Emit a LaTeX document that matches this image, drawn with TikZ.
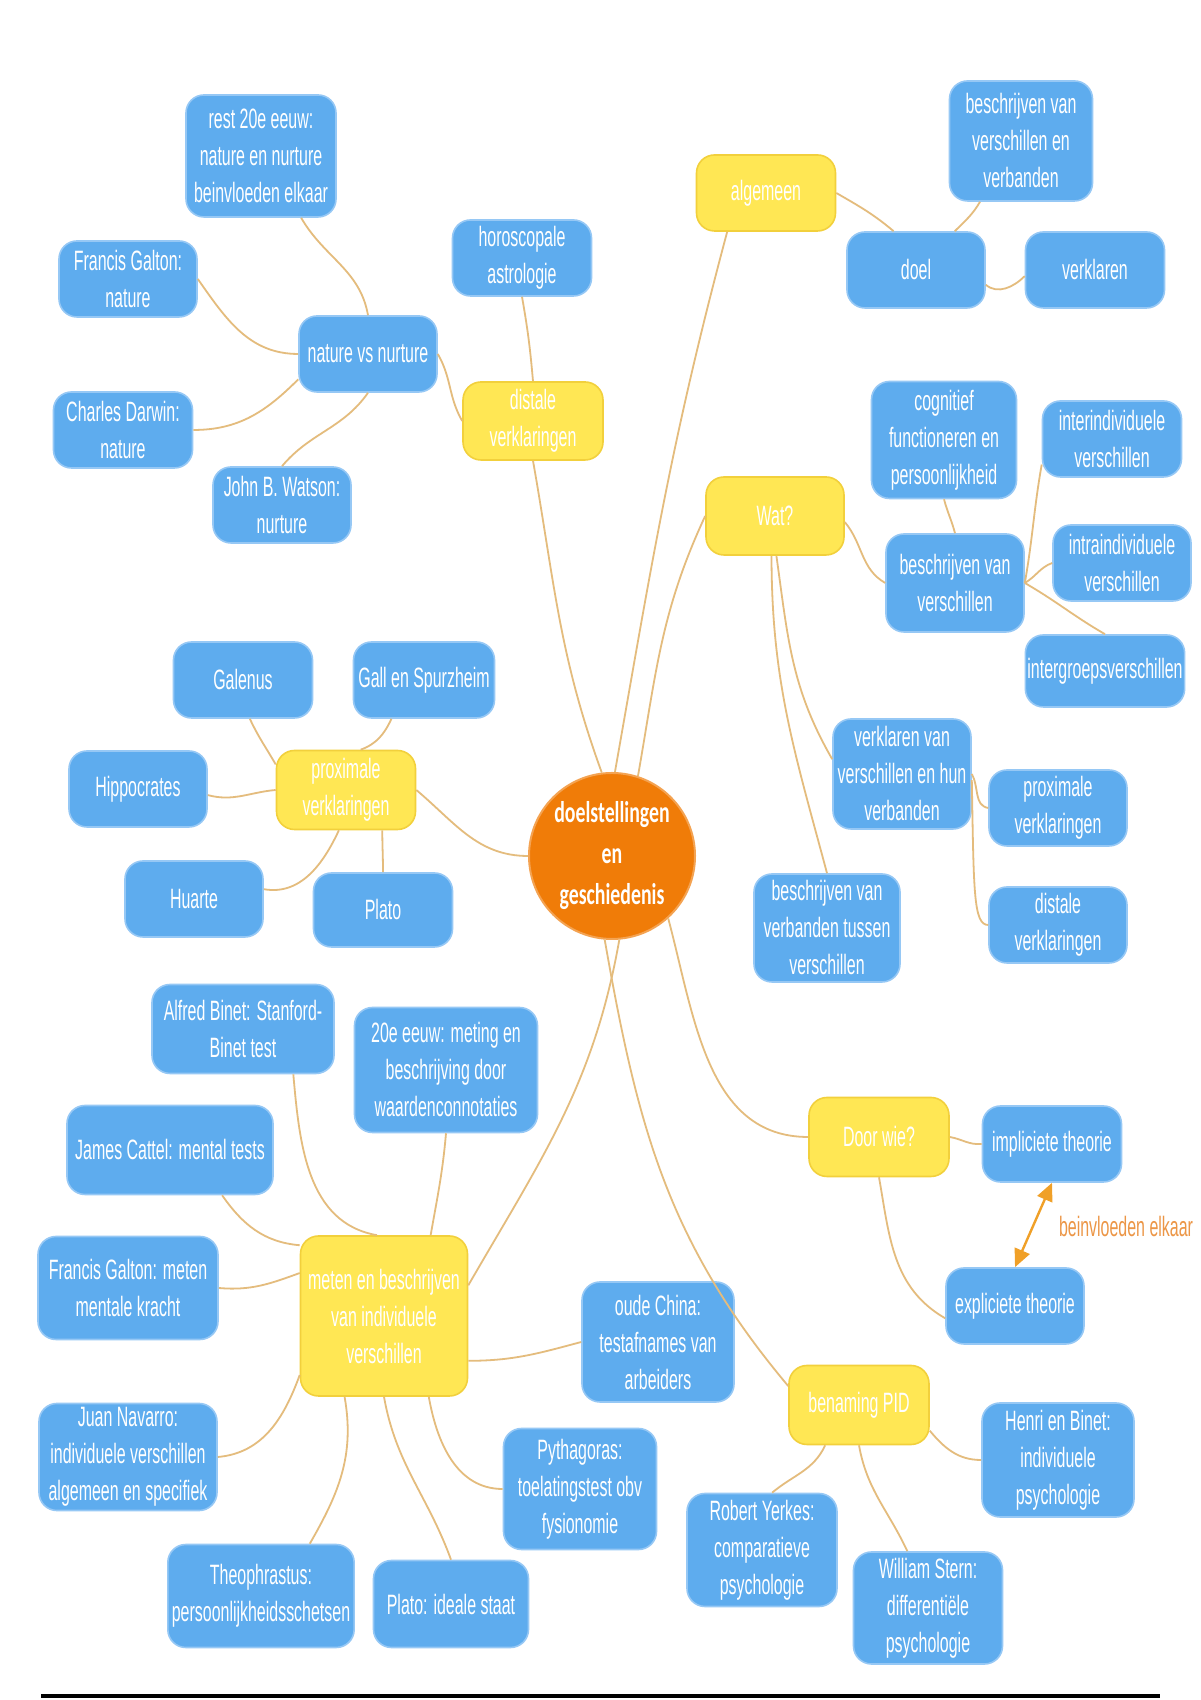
\documentclass[tikz,border=0pt]{standalone}
\usepackage{fontspec}
\setmainfont[FakeStretch=0.57]{Liberation Sans}
\newfontfamily\hubfont[FakeStretch=0.66]{Carlito}
\usetikzlibrary{arrows.meta}

\definecolor{leafblue}{RGB}{94,172,238}
\definecolor{leafedge}{RGB}{150,200,245}
\definecolor{branchyellow}{RGB}{255,231,84}
\definecolor{branchedge}{RGB}{242,208,60}
\definecolor{huborange}{RGB}{240,124,8}
\definecolor{linktan}{RGB}{228,188,125}
\definecolor{arroworange}{RGB}{240,160,40}
\definecolor{labelorange}{RGB}{236,150,70}

\tikzset{
  mapfont/.style={font=\fontsize{14}{18.5}\selectfont},
  leaf/.style={mapfont, draw=leafedge, line width=0.8pt, fill=leafblue, text=white,
    rounded corners=9pt, align=center, inner sep=2pt, minimum width=69pt, minimum height=38pt},
  branch/.style={leaf, draw=branchedge, fill=branchyellow},
  hub/.style={circle, draw=huborange!70, line width=1pt, fill=huborange, text=white,
    align=center, inner sep=0pt, minimum size=83pt, font=\hubfont\bfseries\fontsize{15}{20.5}\selectfont},
  link/.style={draw=linktan, line width=0.9pt},
  infl/.style={{Triangle[length=9pt,width=8pt]}-{Triangle[length=9pt,width=8pt]}, draw=arroworange, line width=1.2pt}
}

\begin{document}
\begin{tikzpicture}[x=0.5pt,y=0.5pt]
\useasboundingbox (0,0) rectangle (1200,1700);
\fill[white] (0,0) rectangle (1200,1700);

% Central topic
\node[hub] (hub) at (612,844) {doelstellingen\\en\\geschiedenis};

% distale verklaringen
\node[branch, minimum width=70pt, minimum height=39pt] (distY) at (533,1279) {distale\\verklaringen};
\node[leaf, minimum width=69.5pt] (horosc) at (522,1442) {horoscopale\\astrologie};
\node[leaf] (natnur) at (368,1346) {nature vs nurture};
\node[leaf, minimum width=75pt, minimum height=61pt] (natureboth) at (261,1544) {rest 20e eeuw:\\nature en nurture\\beinvloeden elkaar};
\node[leaf] (galtonnat) at (128,1421) {Francis Galton:\\nature};
\node[leaf, minimum width=69.5pt] (darwin) at (123,1270) {Charles Darwin:\\nature};
\node[leaf] (watson) at (282,1195) {John B. Watson:\\nurture};

% algemeen
\node[branch, minimum width=69.5pt] (algem) at (766,1507) {algemeen};
\node[leaf] (doel) at (916,1430) {doel};
\node[leaf, minimum width=71.5pt, minimum height=60pt] (beschrvv) at (1021,1559) {beschrijven van\\verschillen en\\verbanden};
\node[leaf, minimum width=69.5pt] (verkl) at (1095,1430) {verklaren};

% Wat?
\node[branch, minimum height=39pt] (wat) at (775,1184) {Wat?};
\node[leaf, minimum width=72.5pt, minimum height=58.5pt] (cognit) at (944,1260) {cognitief\\functioneren en\\persoonlijkheid};
\node[leaf, minimum height=49pt] (beschrv) at (955,1117) {beschrijven van\\verschillen};
\node[leaf, minimum width=69.5pt] (inter) at (1112,1261) {interindividuele\\verschillen};
\node[leaf] (intra) at (1122,1137) {intraindividuele\\verschillen};
\node[leaf, inner xsep=1pt, minimum width=78.5pt, minimum height=36pt] (intergr) at (1105,1029) {intergroepsverschillen};
\node[leaf, inner xsep=1pt, minimum height=55pt] (verklvv) at (902,926) {verklaren van\\verschillen en hun\\verbanden};
\node[leaf] (proxB) at (1058,892) {proximale\\verklaringen};
\node[leaf] (distB) at (1058,775) {distale\\verklaringen};
\node[leaf, minimum width=73pt, minimum height=54pt] (beschrvt) at (827,772) {beschrijven van\\verbanden tussen\\verschillen};

% proximale verklaringen
\node[branch, minimum width=69.5pt, minimum height=39.5pt] (proxY) at (346,910) {proximale\\verklaringen};
\node[leaf, minimum width=69.5pt] (galenus) at (243,1020) {Galenus};
\node[leaf, minimum width=70.5pt] (gall) at (424,1020) {Gall en Spurzheim};
\node[leaf] (hippo) at (138,911) {Hippocrates};
\node[leaf] (huarte) at (194,801) {Huarte};
\node[leaf, minimum width=69.5pt, minimum height=37pt] (plato) at (383,790) {Plato};

% meten en beschrijven
\node[branch, minimum width=83.5pt, minimum height=80pt] (meten) at (384,384) {meten en beschrijven\\van individuele\\verschillen};
\node[leaf, minimum width=91pt, minimum height=44.5pt] (binet) at (243,671) {Alfred Binet: Stanford-\\Binet test};
\node[leaf, minimum width=91.5pt, minimum height=62.5pt] (eeuw20) at (446,630) {20e eeuw: meting en\\beschrijving door\\waardenconnotaties};
\node[leaf, minimum width=103pt, minimum height=44.5pt] (cattel) at (170,550) {James Cattel: mental tests};
\node[leaf, minimum width=90pt, minimum height=51.5pt] (galtonmk) at (128,412) {Francis Galton: meten\\mentale kracht};
\node[leaf, minimum width=76pt, minimum height=60pt] (china) at (658,358) {oude China:\\testafnames van\\arbeiders};
\node[leaf, minimum width=89pt, minimum height=52pt] (navarro) at (128,243) {Juan Navarro:\\individuele verschillen\\algemeen en specifiek};
\node[leaf, minimum width=76.5pt, minimum height=60.5pt] (pyth) at (580,211) {Pythagoras:\\toelatingstest obv\\fysionomie};
\node[leaf, minimum width=91pt, minimum height=51.5pt] (theo) at (261,104) {Theophrastus:\\persoonlijkheidsschetsen};
\node[leaf, minimum width=77.5pt, minimum height=43.5pt] (platost) at (451,96) {Plato: ideale staat};

% Door wie?
\node[branch, minimum width=70pt, minimum height=39.5pt] (doorwie) at (879,563) {Door wie?};
\node[leaf, minimum width=69.5pt] (implic) at (1052,556) {impliciete theorie};
\node[leaf] (explic) at (1015,394) {expliciete theorie};
\node[mapfont, text=labelorange] (inflabel) at (1126,473) {beinvloeden elkaar};

% benaming PID
\node[branch, minimum width=70pt, minimum height=39.5pt] (benaming) at (859,295) {benaming PID};
\node[leaf, minimum width=76pt, minimum height=57pt] (henri) at (1058,240) {Henri en Binet:\\individuele\\psychologie};
\node[leaf, minimum width=75pt, minimum height=56.5pt] (yerkes) at (762,150) {Robert Yerkes:\\comparatieve\\psychologie};
\node[leaf, minimum width=74.5pt, minimum height=56pt] (stern) at (928,92) {William Stern:\\differentiële\\psychologie};

% Connectors
\foreach \from/\o/\i/\to in {
  natureboth.-57/-60/100/natnur.north,
  galtonnat.east/-55/180/natnur.west,
  darwin.east/0/225/natnur.200,
  watson.north/50/-125/natnur.south,
  natnur.east/-60/120/distY.west,
  horosc.south/-80/95/distY.north,
  distY.south/-80/110/hub.97,
  algem.-135/-105/80/hub.88,
  algem.east/-30/140/doel.120,
  doel.45/45/-120/beschrvv.-124,
  doel.-12/-40/-135/verkl.185,
  wat.west/-115/80/hub.72,
  wat.-5/-50/150/beschrv.west,
  wat.-88/-82/120/verklvv.168,
  wat.-95/-90/105/beschrvt.north,
  cognit.south/-75/105/beschrv.north,
  beschrv.east/80/-100/inter.200,
  beschrv.east/30/200/intra.west,
  beschrv.east/-30/150/intergr.north,
  verklvv.east/-60/170/proxB.west,
  hub.west/180/-40/proxY.east,
  galenus.-80/-65/120/proxY.160,
  gall.-130/-115/20/proxY.70,
  hippo.-5/-15/185/proxY.west,
  huarte.8/-10/-115/proxY.-100,
  plato.north/90/-90/proxY.-48,
  hub.-85/-100/60/meten.20,
  hub.-48/-75/180/doorwie.west,
  hub.-95/-80/130/benaming.165,
  doorwie.east/-10/185/implic.west,
  doorwie.south/-80/150/explic.190,
  benaming.-20/-50/180/henri.west,
  benaming.-130/-115/40/yerkes.80,
  benaming.south/-80/115/stern.110,
  binet.-42/-85/170/meten.95,
  eeuw20.south/-95/80/meten.60,
  cattel.-41/-55/175/meten.140,
  galtonmk.east/-5/200/meten.153,
  meten.-28/0/195/china.west,
  navarro.east/5/-110/meten.-145,
  meten.-116/-80/60/theo.47,
  meten.south/-80/110/platost.north,
  meten.-61/-80/180/pyth.west}
  \draw[link] (\from) to[out=\o,in=\i] (\to);
\draw[link] (verklvv.-5) .. controls +(2,-110) and +(-15,0) .. (distB.west);

% Two theories influence each other
\draw[infl] (explic.north) -- (implic.south);

% Bottom rule
\draw[line width=2pt] (41,4) -- (1160,4);
\end{tikzpicture}
\end{document}
